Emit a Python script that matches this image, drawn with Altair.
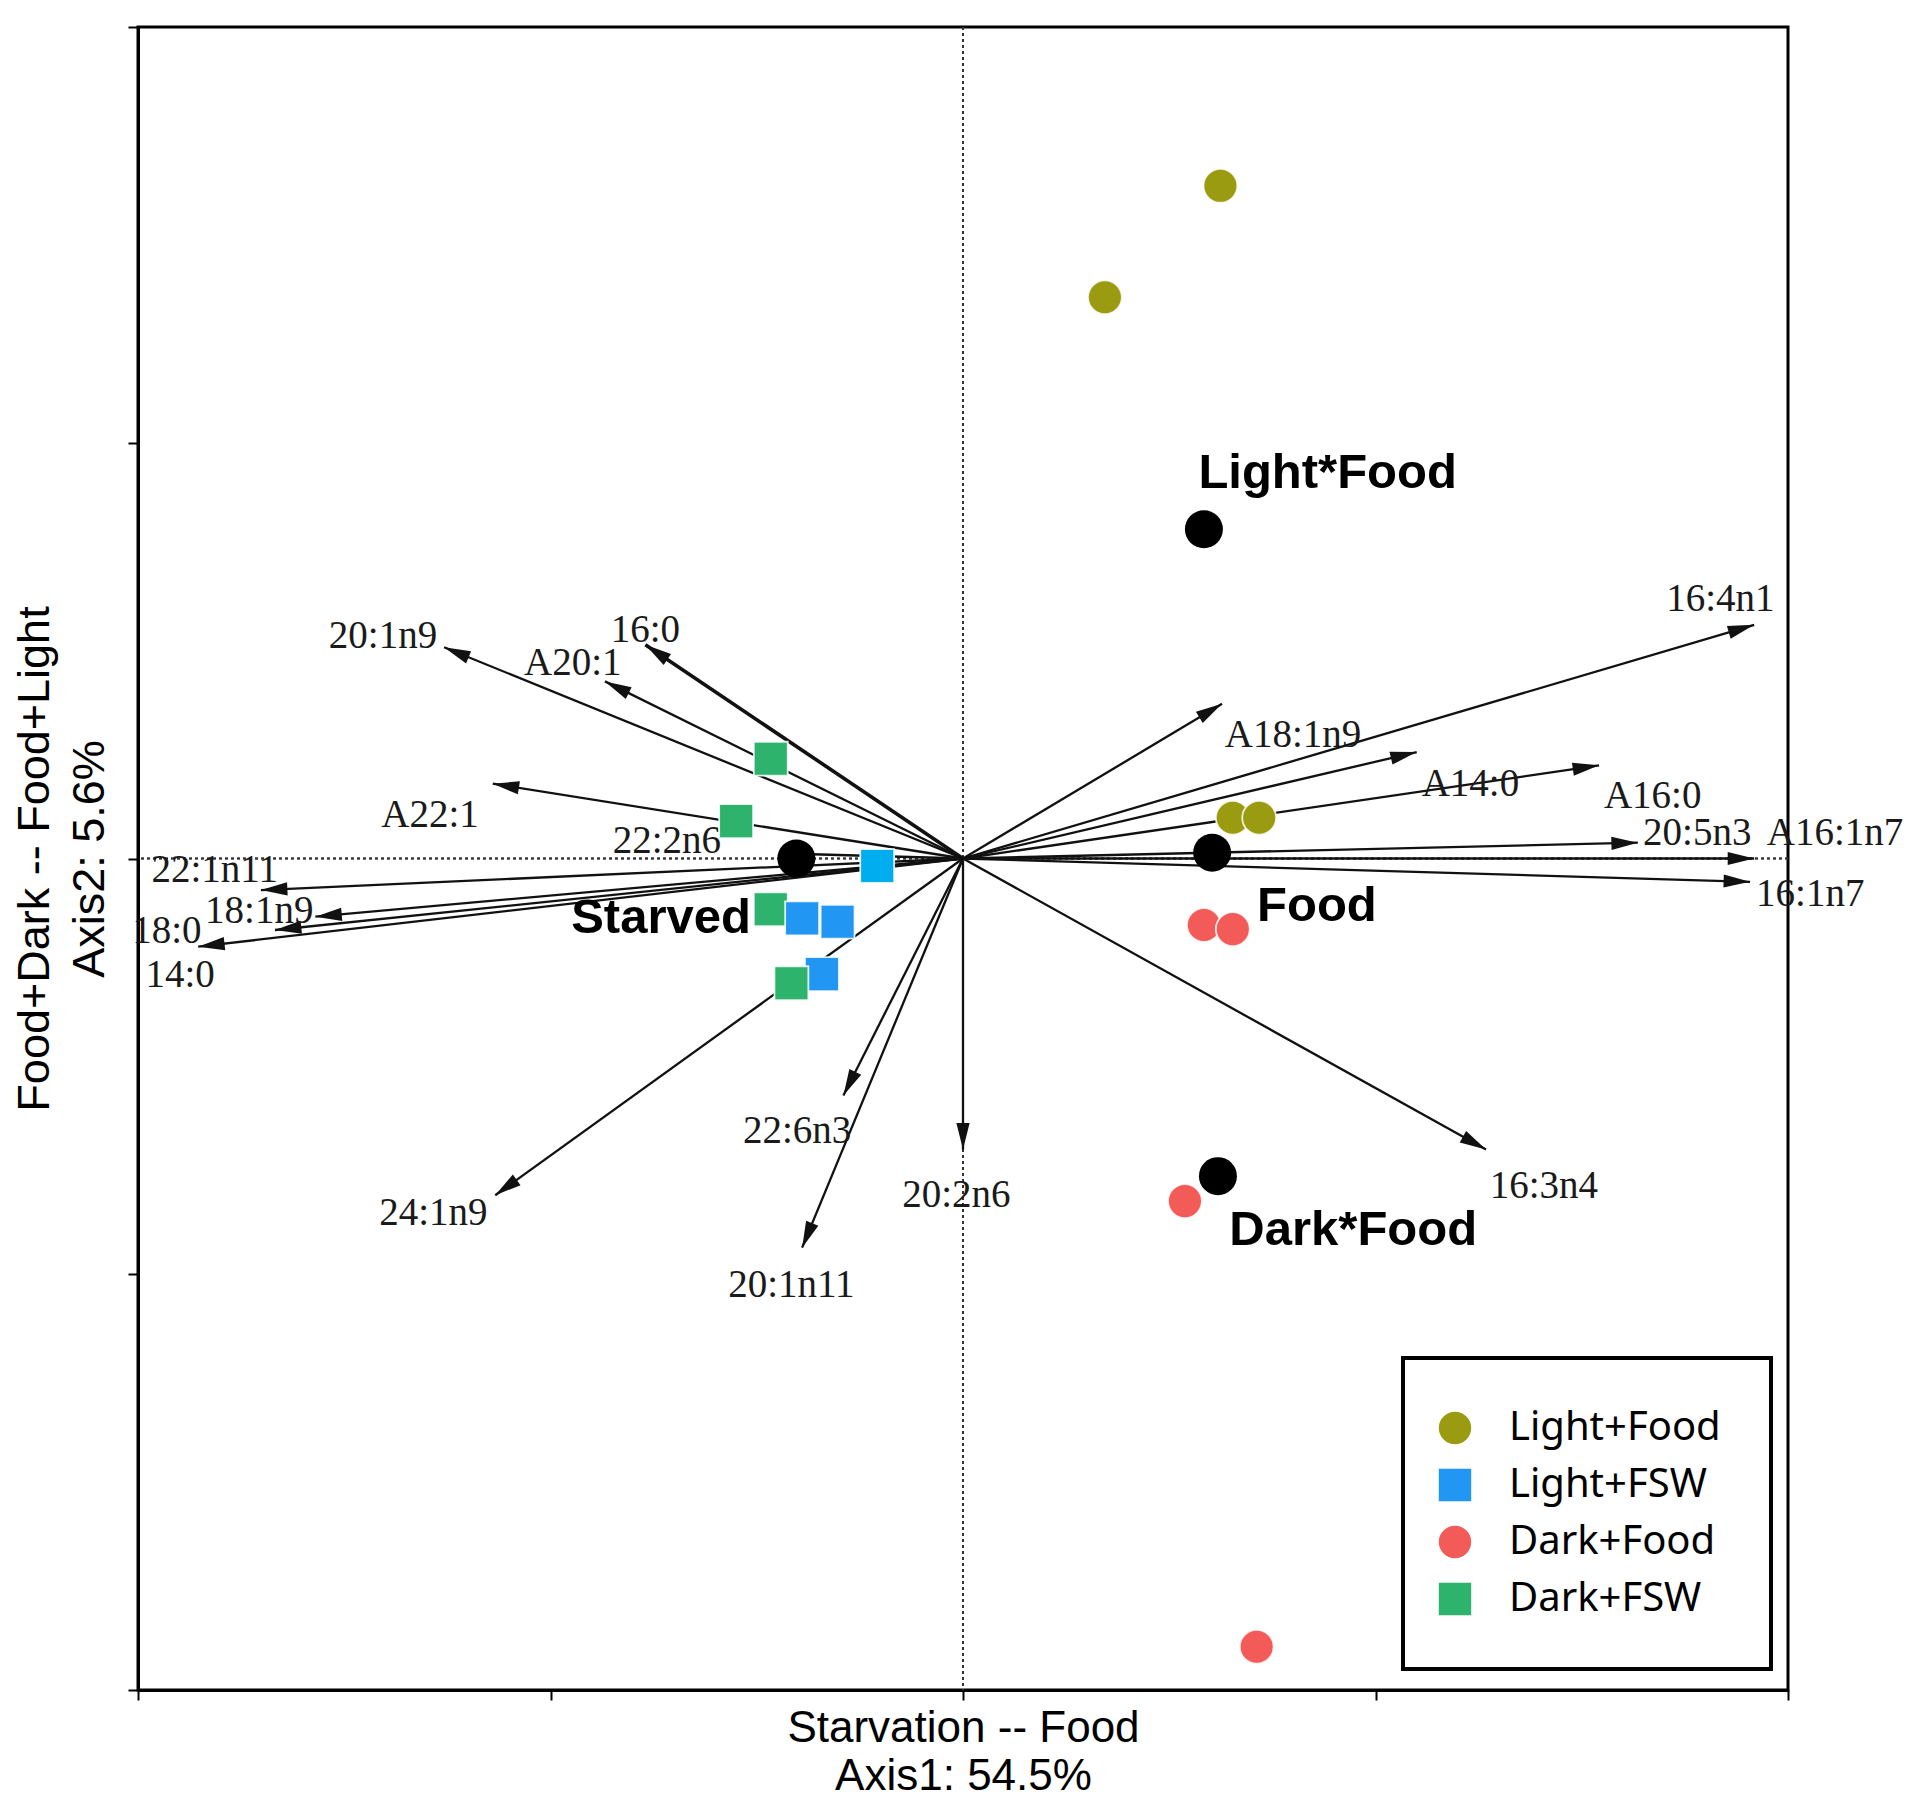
import altair as alt
import pandas as pd

W, H = 1650, 1663

# ---- fatty-acid vectors (arrow tips, axis units) ----
var_names = ["20:1n9", "A20:1", "16:0", "A22:1", "22:2n6", "22:1n11", "18:1n9", "18:0", "14:0",
             "24:1n9", "22:6n3", "20:1n11", "20:2n6", "16:3n4", "16:4n1", "A18:1n9", "A14:0",
             "A16:0", "20:5n3", "A16:1n7", "16:1n7"]
var_x = [-0.629, -0.434, -0.385, -0.570, -0.215, -0.851, -0.785, -0.834, -0.927,
         -0.567, -0.145, -0.195, 0.000, 0.634, 0.959, 0.314, 0.550,
         0.771, 0.818, 0.959, 0.954]
var_y = [0.254, 0.213, 0.257, 0.090, 0.006, -0.038, -0.070, -0.086, -0.106,
         -0.405, -0.285, -0.468, -0.350, -0.350, 0.281, 0.186, 0.128,
         0.112, 0.019, 0.000, -0.028]
lab_x = [-0.703, -0.473, -0.385, -0.646, -0.359, -0.907, -0.853, -0.965, -0.949,
         -0.642, -0.201, -0.208, -0.008, 0.704, 0.918, 0.400, 0.615,
         0.836, 0.890, 1.057, 1.027]
lab_y = [0.253, 0.221, 0.260, 0.038, 0.007, -0.028, -0.078, -0.102, -0.155,
         -0.441, -0.342, -0.527, -0.419, -0.408, 0.298, 0.134, 0.075,
         0.061, 0.016, 0.016, -0.057]

# ---- samples ----
sample_group = (["Light+Food"] * 4 + ["Dark+Food"] * 4 + ["Dark+FSW"] * 3
                + ["Light+FSW"] * 4 + ["Dark+FSW"])
sample_tone = (["Light+Food"] * 4 + ["Dark+Food"] * 4 + ["Dark+FSW"] * 3
               + ["Light+FSW"] * 3 + ["Light+FSW (pale)"] + ["Dark+FSW"])
sample_x = [0.312, 0.172, 0.327, 0.359,
            0.292, 0.327, 0.269, 0.356,
            -0.233, -0.275, -0.233,
            -0.195, -0.152, -0.171, -0.104,
            -0.208]
sample_y = [0.809, 0.675, 0.049, 0.049,
            -0.080, -0.085, -0.412, -0.948,
            0.120, 0.045, -0.061,
            -0.072, -0.076, -0.139, -0.009,
            -0.150]

# ---- group centroids ----
cent_names = ["Light*Food", "Food", "Starved", "Dark*Food"]
cent_x = [0.292, 0.302, -0.202, 0.309]
cent_y = [0.396, 0.007, 0.000, -0.382]
cent_lab_x = [0.442, 0.429, -0.366, 0.473]
cent_lab_y = [0.446, -0.075, -0.090, -0.465]

legend_groups = ["Light+Food", "Light+FSW", "Dark+Food", "Dark+FSW"]
tone_domain = legend_groups + ["Light+FSW (pale)"]
tone_colors = ["#9b9b12", "#2196f3", "#f25b57", "#2db36b", "#00aeef"]
tone_shapes = ["circle", "square", "circle", "square", "square"]
ticks = [-1, -0.5, 0, 0.5, 1]

vec = pd.DataFrame({"var": var_names, "x": var_x, "y": var_y, "ox": 0.0, "oy": 0.0})
labs = pd.DataFrame({"var": var_names, "x": lab_x, "y": lab_y})
samp = pd.DataFrame({"group": sample_group, "tone": sample_tone, "x": sample_x, "y": sample_y})
cent = pd.DataFrame({"name": cent_names, "x": cent_x, "y": cent_y})
cent_lab = pd.DataFrame({"name": cent_names, "x": cent_lab_x, "y": cent_lab_y})

xs = alt.Scale(domain=[-1, 1], nice=False, zero=False)
ys = alt.Scale(domain=[-1, 1], nice=False, zero=False)
xaxis = alt.Axis(values=ticks, labels=False, grid=False, tickSize=10, tickWidth=2,
                 tickColor="black", domainColor="black", domainWidth=3,
                 title=["Starvation -- Food", "Axis1: 54.5%"], titlePadding=5,
                 titleFontSize=44, titleLineHeight=48)
yaxis = alt.Axis(values=ticks, labels=False, grid=False, tickSize=10, tickWidth=2,
                 tickColor="black", domainColor="black", domainWidth=3,
                 title=["Food+Dark -- Food+Light", "Axis2: 5.6%"], titlePadding=15,
                 titleFontSize=45, titleLineHeight=55)


def X(f):
    return alt.X(f, type="quantitative", scale=xs, axis=xaxis)


def Y(f):
    return alt.Y(f, type="quantitative", scale=ys, axis=yaxis)


vline = alt.Chart(cent).mark_rule(color="#333", strokeDash=[3, 3], strokeWidth=1.5).encode(
    x=alt.X(datum=0, type="quantitative", scale=xs, axis=xaxis))
hline = alt.Chart(cent).mark_rule(color="#333", strokeDash=[3, 3], strokeWidth=1.5).encode(
    y=alt.Y(datum=0, type="quantitative", scale=ys, axis=yaxis))

arrows = alt.Chart(vec).mark_rule(color="#111").encode(
    x=X("ox"), y=Y("oy"), x2="x", y2="y",
    strokeWidth=alt.condition(alt.datum["var"] == "16:0", alt.value(3.6), alt.value(2.3)),
)

heads = alt.Chart(vec).transform_calculate(
    ang=f"(atan2(datum.x * {W / 2}, datum.y * {H / 2}) * 180 / PI + 360) % 360"
).mark_point(shape="M0,0L-0.25,1L0.25,1Z", filled=True, size=2800, color="#111", opacity=1).encode(
    x=X("x"), y=Y("y"), angle=alt.Angle("ang:Q", scale=None))

var_text = alt.Chart(labs).mark_text(font="Liberation Serif", fontSize=39, align="center",
                                     baseline="alphabetic", color="#1a1a1a").encode(
    x=X("x"), y=Y("y"), text="var:N")

leg = alt.Legend(title=None, values=legend_groups, orient="none", legendX=1265, legendY=1331,
                 padding=50, strokeColor="black", fillColor="white", labelFont="Noto Sans",
                 labelFontSize=40, labelColor="black", symbolSize=1150, rowPadding=17,
                 labelOffset=34, symbolOffset=-18, labelLimit=400, symbolStrokeColor="white",
                 symbolStrokeWidth=1.5)

pts = alt.Chart(samp).mark_point(filled=True, opacity=1, size=1150, stroke="white",
                                 strokeWidth=1.8, strokeOpacity=0.85).encode(
    x=X("x"), y=Y("y"),
    color=alt.Color("tone:N", scale=alt.Scale(domain=tone_domain, range=tone_colors), legend=leg),
    shape=alt.Shape("tone:N", scale=alt.Scale(domain=tone_domain, range=tone_shapes), legend=leg),
)

cents = alt.Chart(cent).mark_circle(size=1444, color="black", opacity=1).encode(x=X("x"), y=Y("y"))

cent_text = alt.Chart(cent_lab).mark_text(font="Liberation Sans", fontWeight="bold", fontSize=49,
                                          align="center", baseline="alphabetic", color="black").encode(
    x=X("x"), y=Y("y"), text="name:N")

chart = alt.layer(vline, hline, arrows, heads, var_text, cents, pts, cent_text).properties(
    width=W, height=H,
    autosize=alt.AutoSizeParams(type="none"),
    padding={"left": 130, "top": 19, "right": 118, "bottom": 112}
).configure_view(stroke="black", strokeWidth=3).configure_axis(
    titleFont="Liberation Sans", titleFontWeight="normal", titleColor="black"
).configure_legend(strokeWidth=4)

chart.save("out.html", embed_options={"renderer": "svg", "actions": False})
